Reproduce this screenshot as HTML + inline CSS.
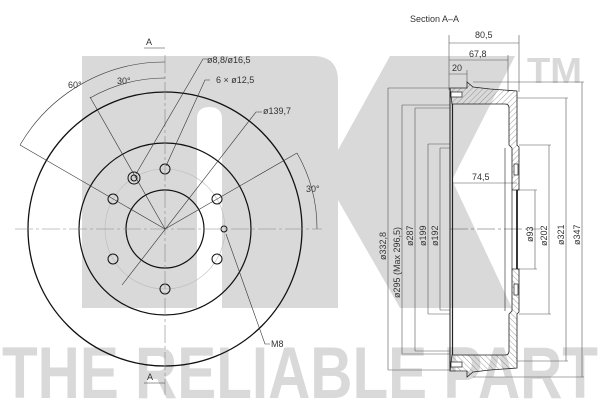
<!DOCTYPE html>
<html><head><meta charset="utf-8"><style>
html,body{margin:0;padding:0;background:#fff;width:600px;height:400px;overflow:hidden}
svg{display:block}
text{font-family:"Liberation Sans",sans-serif}
</style></head><body>
<svg width="600" height="400" viewBox="0 0 600 400" xmlns="http://www.w3.org/2000/svg">
<defs>
<pattern id="h" width="4" height="4" patternUnits="userSpaceOnUse" patternTransform="rotate(45)">
<line x1="0" y1="0" x2="0" y2="4" stroke="#777" stroke-width="0.7"/>
</pattern>
</defs>
<!-- watermark -->
<g fill="#d9d9d9">
<path d="M82 56 H313 Q338 56 338 81 V308 H82 Z"/>
<path d="M390 56 H515 L452 180 L512 308 H400 L338 200 V150 Z"/>
<text x="527" y="83" font-size="36" font-weight="bold" textLength="55" lengthAdjust="spacingAndGlyphs">TM</text>
<text x="2" y="398" font-size="73" font-weight="bold" textLength="596" lengthAdjust="spacingAndGlyphs">THE RELIABLE PART</text>
</g>
<path d="M197 308 V119 Q197 107 209.5 107 Q222 107 222 119 V308 Z" fill="#fff"/>

<!-- front view -->
<g fill="none" stroke="#111">
<circle cx="165" cy="229" r="137" stroke-width="1.3"/>
<circle cx="165" cy="229" r="86" stroke-width="1.2"/>
<circle cx="165" cy="229" r="39" stroke-width="1.2"/>
<circle cx="165" cy="229" r="60" stroke="#bbb" stroke-width="0.6"/>
<circle cx="165" cy="169" r="5"/>
<circle cx="113" cy="199" r="5"/>
<circle cx="217" cy="199" r="5"/>
<circle cx="113" cy="259" r="5"/>
<circle cx="217" cy="259" r="5"/>
<circle cx="165" cy="289" r="5"/>
<circle cx="134" cy="178" r="6"/>
<circle cx="134" cy="178" r="3"/>
<circle cx="224" cy="229" r="3"/>
</g>
<g stroke="#888" stroke-width="0.6" fill="none">
<line x1="165" y1="55" x2="165" y2="395" stroke-dasharray="18 3 3 3"/>
<line x1="15" y1="229" x2="322" y2="229" stroke-dasharray="18 3 3 3"/>
</g>
<g stroke="#333" stroke-width="0.6" fill="none">
<line x1="165" y1="229" x2="20" y2="145"/>
<line x1="165" y1="229" x2="90" y2="97"/>
<line x1="165" y1="229" x2="297" y2="153"/>
<path d="M20 145 A167 167 0 0 1 165 62"/>
<path d="M90 98 A151 151 0 0 1 165 78"/>
<path d="M297 153 A152 152 0 0 1 317 229"/>
<polyline points="210,80 205,80 166,166"/>
<polyline points="209,59 203,59 136,174"/>
<polyline points="262,112 256,112 122,285"/>
<polyline points="270,344 265,344 226,234"/>
<line x1="144" y1="48" x2="165" y2="48"/>
<line x1="144" y1="383" x2="165" y2="383"/>
</g>
<g fill="#333" font-size="9">
<text x="146" y="45">A</text>
<text x="147" y="380">A</text>
<text x="68" y="88">60°</text>
<text x="117" y="84">30°</text>
<text x="306" y="192">30°</text>
<text x="207" y="63">ø8,8/ø16,5</text>
<text x="216" y="83">6 × ø12,5</text>
<text x="263" y="114">ø139,7</text>
<text x="271" y="347">M8</text>
<text x="410" y="22">Section  A–A</text>
<text x="475" y="38">80,5</text>
<text x="469" y="57">67,8</text>
<text x="452" y="71">20</text>
<text x="472" y="180">74,5</text>
</g>

<!-- section dims -->
<g stroke="#555" stroke-width="0.6" fill="none">
<line x1="449" y1="35" x2="449" y2="90"/>
<line x1="519" y1="35" x2="519" y2="92"/>
<line x1="508" y1="55" x2="508" y2="92"/>
<line x1="467" y1="70" x2="467" y2="82"/>
<line x1="449" y1="43" x2="519" y2="43"/>
<line x1="449" y1="60" x2="508" y2="60"/>
<line x1="449" y1="74" x2="467" y2="74"/>
<line x1="453" y1="183" x2="517" y2="183"/>
<line x1="450" y1="229" x2="540" y2="229" stroke-dasharray="18 3 3 3"/>
<path d="M388 88 H450 M388 88 V370 M388 370 H450"/>
<path d="M402 105 H450 M402 105 V354 M402 354 H450"/>
<path d="M415 108 H450 M415 108 V351 M415 351 H450"/>
<path d="M428 144 H450 M428 144 V314 M428 314 H450"/>
<path d="M440 148 H450 M440 148 V310 M440 310 H450"/>
<path d="M517 190 H537 M535 190 V269 M517 269 H537"/>
<path d="M519 145 H551 M549 145 V314 M519 314 H551"/>
<path d="M517 98 H568 M566 98 V361 M517 361 H568"/>
<path d="M473 82 H584 M582 82 V377 M473 377 H584"/>
</g>
<g fill="#333" font-size="9">
<text transform="translate(386,260) rotate(-90)">ø332,8</text>
<text transform="translate(400,298) rotate(-90)">ø295 (Max 296,5)</text>
<text transform="translate(413,246) rotate(-90)">ø287</text>
<text transform="translate(426,246) rotate(-90)">ø199</text>
<text transform="translate(438,246) rotate(-90)">ø192</text>
<text transform="translate(533,242) rotate(-90)">ø93</text>
<text transform="translate(547,246) rotate(-90)">ø202</text>
<text transform="translate(564,245) rotate(-90)">ø321</text>
<text transform="translate(580,245) rotate(-90)">ø347</text>
</g>

<!-- section profile -->
<g id="half">
<path d="M450 88 H467 V82 L473 87 L490 89 L517 91 V145 L519 147 V190 H512 V148 L509 145 V108 Q509 104 505 104 H452 Z" fill="url(#h)" stroke="#222" stroke-width="0.8"/>
<rect x="451" y="92" width="11" height="5" fill="#fff" stroke="#222" stroke-width="0.7"/>
<rect x="514" y="164" width="4" height="11" fill="#fff" stroke="#222" stroke-width="0.7"/>
</g>
<use href="#half" transform="translate(0,459) scale(1,-1)"/>
<g stroke="#222" fill="none">
<line x1="450" y1="88" x2="450" y2="371" stroke-width="1"/>
<line x1="452.5" y1="104" x2="452.5" y2="355" stroke-width="1.2"/>
<line x1="512" y1="190" x2="512" y2="269" stroke-width="0.7"/>
<line x1="517" y1="190" x2="517" y2="269" stroke-width="1.8"/>
<line x1="505" y1="148" x2="505" y2="311" stroke-width="0.6"/>
</g>
</svg>
</body></html>
